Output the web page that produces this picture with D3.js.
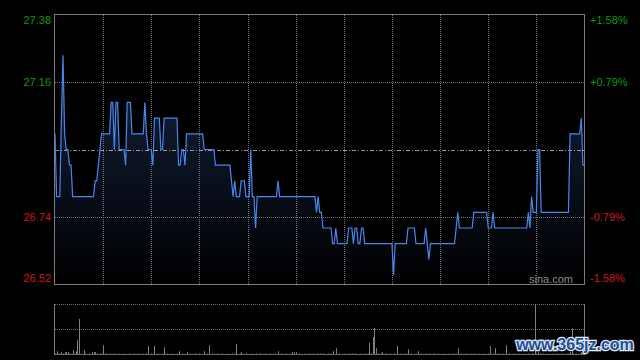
<!DOCTYPE html>
<html>
<head>
<meta charset="utf-8">
<script src="https://cdn.jsdelivr.net/npm/d3@7/dist/d3.min.js"></script>
<style>
	html, body { margin: 0; padding: 0; background: #000; }
	svg { display: block; }
	text { font-family: "Liberation Sans", Arial, sans-serif; }
</style>
</head>
<body>
<svg width="640" height="360"></svg>
<script>
// intraday price, one value per minute (9:30-12:00, 13:00-16:00)
let prices = [
	27.00, 26.80, 26.80, 26.80, 27.05, 27.25, 27.00, 26.95, 26.95, 26.90, 26.90, 26.80, 26.80, 26.80, 26.80, 26.80, 26.80, 26.80, 26.80, 26.80, 26.80, 26.80, 26.80, 26.80, 26.80, 26.85, 26.85, 26.90, 26.95, 27.00,
	27.00, 27.00, 27.00, 27.00, 27.00, 27.10, 27.10, 26.95, 27.10, 27.10, 26.95, 26.95, 26.95, 26.95, 26.90, 27.10, 27.10, 27.10, 27.00, 27.00, 27.00, 27.00, 27.00, 27.00, 27.00, 27.00, 27.10, 27.00, 26.95, 26.95,
	26.95, 26.90, 27.05, 27.05, 27.05, 27.05, 26.95, 26.95, 27.05, 27.05, 27.05, 27.05, 27.05, 27.05, 27.05, 27.05, 27.05, 26.90, 26.90, 26.95, 26.95, 26.90, 27.00, 27.00, 27.00, 27.00, 27.00, 27.00, 27.00, 27.00,
	27.00, 27.00, 27.00, 26.95, 26.95, 26.95, 26.95, 26.95, 26.95, 26.95, 26.90, 26.90, 26.90, 26.90, 26.90, 26.90, 26.90, 26.90, 26.90, 26.90, 26.85, 26.80, 26.85, 26.80, 26.80, 26.80, 26.85, 26.85, 26.85, 26.80,
	26.80, 26.80, 26.95, 26.80, 26.80, 26.70, 26.80, 26.80, 26.80, 26.80, 26.80, 26.80, 26.80, 26.80, 26.80, 26.80, 26.80, 26.80, 26.80, 26.85, 26.80, 26.80, 26.80, 26.80, 26.80, 26.80, 26.80, 26.80, 26.80, 26.80,
	26.80, 26.80, 26.80, 26.80, 26.80, 26.80, 26.80, 26.80, 26.80, 26.80, 26.80, 26.80, 26.80, 26.75, 26.80, 26.75, 26.75, 26.70, 26.70, 26.70, 26.70, 26.70, 26.70, 26.65, 26.65, 26.70, 26.65, 26.65, 26.65, 26.65,
	26.65, 26.65, 26.65, 26.70, 26.70, 26.70, 26.65, 26.70, 26.70, 26.65, 26.65, 26.70, 26.70, 26.65, 26.65, 26.65, 26.65, 26.65, 26.65, 26.65, 26.65, 26.65, 26.65, 26.65, 26.65, 26.65, 26.65, 26.65, 26.65, 26.65,
	26.65, 26.55, 26.65, 26.65, 26.65, 26.65, 26.65, 26.65, 26.65, 26.65, 26.70, 26.70, 26.70, 26.70, 26.70, 26.65, 26.65, 26.65, 26.65, 26.65, 26.65, 26.70, 26.65, 26.60, 26.65, 26.65, 26.65, 26.65, 26.65, 26.65,
	26.65, 26.65, 26.65, 26.65, 26.65, 26.65, 26.65, 26.65, 26.65, 26.65, 26.70, 26.75, 26.70, 26.70, 26.70, 26.70, 26.70, 26.70, 26.70, 26.70, 26.70, 26.75, 26.75, 26.75, 26.75, 26.75, 26.75, 26.75, 26.75, 26.75,
	26.70, 26.70, 26.70, 26.75, 26.70, 26.70, 26.70, 26.70, 26.70, 26.70, 26.70, 26.70, 26.70, 26.70, 26.70, 26.70, 26.70, 26.70, 26.70, 26.70, 26.70, 26.70, 26.70, 26.70, 26.70, 26.75, 26.70, 26.80, 26.75, 26.75,
	26.75, 26.95, 26.95, 26.75, 26.75, 26.75, 26.75, 26.75, 26.75, 26.75, 26.75, 26.75, 26.75, 26.75, 26.75, 26.75, 26.75, 26.75, 26.75, 26.75, 26.75, 27.00, 27.00, 27.00, 27.00, 27.00, 27.00, 27.00, 27.05, 26.90, 26.90
]

// volume per minute (arbitrary units)
let volumes = [
	10, 33, 10, 10, 23, 10, 23, 23, 23, 10, 5, 43, 10, 33, 143, 353, 10, 5, 43, 10, 5, 10, 5, 23, 23, 23, 10, 5, 10, 10,
	93, 5, 10, 5, 10, 5, 5, 10, 5, 5, 10, 5, 5, 10, 5, 5, 10, 5, 5, 10, 5, 5, 10, 5, 5, 10, 5, 10, 83, 5,
	10, 5, 83, 5, 10, 5, 5, 10, 73, 5, 10, 5, 5, 10, 5, 5, 10, 33, 5, 10, 5, 5, 23, 5, 10, 5, 5, 10, 5, 5,
	10, 5, 5, 33, 5, 10, 93, 5, 10, 5, 5, 10, 5, 5, 10, 5, 5, 10, 5, 5, 10, 5, 10, 103, 5, 10, 23, 5, 5, 10,
	5, 5, 10, 5, 5, 10, 5, 5, 10, 5, 5, 10, 5, 5, 10, 5, 5, 10, 5, 33, 5, 10, 5, 5, 10, 5, 5, 10, 23, 23,
	23, 5, 10, 5, 5, 10, 5, 5, 10, 5, 5, 10, 5, 10, 5, 10, 5, 10, 5, 5, 10, 5, 10, 33, 5, 63, 5, 10, 5, 5,
	10, 5, 5, 10, 5, 10, 5, 10, 5, 5, 10, 5, 5, 10, 5, 10, 113, 10, 173, 263, 63, 10, 5, 10, 23, 5, 10, 5, 5, 10,
	5, 10, 5, 83, 5, 10, 5, 5, 10, 5, 53, 5, 10, 5, 5, 10, 33, 5, 10, 5, 5, 10, 5, 10, 5, 5, 10, 5, 5, 10,
	5, 5, 10, 5, 5, 10, 5, 5, 10, 5, 10, 63, 5, 10, 5, 5, 10, 5, 5, 10, 5, 10, 5, 5, 10, 5, 5, 10, 5, 5,
	10, 83, 5, 10, 63, 5, 10, 5, 5, 10, 5, 93, 5, 10, 5, 5, 10, 5, 5, 10, 5, 5, 10, 5, 5, 10, 5, 10, 10, 496,
	10, 23, 10, 5, 10, 5, 5, 10, 5, 5, 10, 5, 5, 10, 5, 5, 10, 5, 5, 10, 10, 23, 256, 10, 5, 10, 5, 10, 23, 10, 5
]

let prevClose = 26.95
let priceMax = 27.38
let priceMin = 26.52
let gridPrices = [27.38, 27.165, 26.95, 26.735, 26.52]
let leftLabels = ['27.38', '27.16', '', '26.74', '26.52']
let rightLabels = ['+1.58%', '+0.79%', '', '-0.79%', '-1.58%']
let halfHourTicks = [30, 60, 90, 120, 150, 180, 210, 240, 270, 300]

let green = '#0c9c0c'
let red = '#d01818'

let svg = d3.select('svg')

let x = d3.scaleLinear().domain([0, prices.length - 1]).range([55, 584.5])
let y = d3.scaleLinear().domain([priceMin, priceMax]).range([284.5, 14.5])
let yVol = d3.scaleLinear().domain([0, d3.max(volumes)]).range([354.5, 304.5])

// gradient under the price line
let grad = svg.append('defs').append('linearGradient')
	.attr('id', 'fill')
	.attr('gradientUnits', 'userSpaceOnUse')
	.attr('x1', 0).attr('y1', 14).attr('x2', 0).attr('y2', 284)
grad.append('stop').attr('offset', '0%').attr('stop-color', '#18294a')
grad.append('stop').attr('offset', '100%').attr('stop-color', '#000000')

let area = d3.area()
	.x((d, i) => x(i))
	.y0(284)
	.y1(d => y(d))

svg.append('path')
	.datum(prices)
	.attr('d', area)
	.attr('fill', 'url(#fill)')

// grid
let grid = svg.append('g')
grid.selectAll('line.h')
	.data(gridPrices.filter((d, i) => i > 0 && i < 4 && d != prevClose))
	.join('line')
	.attr('x1', 55).attr('x2', 584)
	.attr('y1', d => Math.round(y(d)) + 0.5)
	.attr('y2', d => Math.round(y(d)) + 0.5)
	.attr('stroke', '#707070')
	.attr('stroke-dasharray', '1,1')

grid.append('line')
	.attr('x1', 55).attr('x2', 584)
	.attr('y1', Math.round(y(prevClose)) + 0.5)
	.attr('y2', Math.round(y(prevClose)) + 0.5)
	.attr('stroke', '#9a9a9a')
	.attr('stroke-dasharray', '4,2,1,2')

grid.selectAll('line.v')
	.data(halfHourTicks)
	.join('line')
	.attr('x1', d => Math.round(x(d)) + 0.5)
	.attr('x2', d => Math.round(x(d)) + 0.5)
	.attr('y1', 15).attr('y2', 284)
	.attr('stroke', '#707070')
	.attr('stroke-dasharray', '1,1')

// price line
svg.append('path')
	.datum(prices)
	.attr('d', d3.line().x((d, i) => x(i)).y(d => y(d)))
	.attr('fill', 'none')
	.attr('stroke', '#4787ec')
	.attr('stroke-width', 1.2)

// frame
svg.append('rect')
	.attr('x', 54.5).attr('y', 14.5)
	.attr('width', 530).attr('height', 270)
	.attr('fill', 'none')
	.attr('stroke', '#7c7c7c')

// price labels
let labelY = d => Math.max(20, Math.min(278, y(d)))
svg.selectAll('text.left')
	.data(gridPrices)
	.join('text')
	.attr('x', 51)
	.attr('y', labelY)
	.attr('dy', '0.36em')
	.attr('text-anchor', 'end')
	.attr('font-size', 11)
	.attr('fill', d => d > prevClose ? green : red)
	.text((d, i) => leftLabels[i])

svg.selectAll('text.right')
	.data(gridPrices)
	.join('text')
	.attr('x', 590)
	.attr('y', labelY)
	.attr('dy', '0.36em')
	.attr('font-size', 11)
	.attr('fill', d => d > prevClose ? green : red)
	.text((d, i) => rightLabels[i])

svg.append('text')
	.attr('x', 573).attr('y', 283)
	.attr('text-anchor', 'end')
	.attr('font-size', 11)
	.attr('fill', '#8a8a8a')
	.text('sina.com')

// volume panel
let vol = svg.append('g')
vol.append('line')
	.attr('x1', 55).attr('x2', 584).attr('y1', 304.5).attr('y2', 304.5)
	.attr('stroke', '#707070').attr('stroke-dasharray', '1,1')
vol.append('line')
	.attr('x1', 55).attr('x2', 584).attr('y1', 329.5).attr('y2', 329.5)
	.attr('stroke', '#707070').attr('stroke-dasharray', '1,1')

vol.selectAll('line.bar')
	.data(volumes)
	.join('line')
	.attr('x1', (d, i) => Math.round(x(i)) + 0.5)
	.attr('x2', (d, i) => Math.round(x(i)) + 0.5)
	.attr('y1', 354.5)
	.attr('y2', d => yVol(d))
	.attr('stroke', '#808080')

vol.append('line')
	.attr('x1', 54.5).attr('x2', 54.5).attr('y1', 304).attr('y2', 355)
	.attr('stroke', '#7c7c7c')
vol.append('line')
	.attr('x1', 584.5).attr('x2', 584.5).attr('y1', 304).attr('y2', 355)
	.attr('stroke', '#7c7c7c')
vol.append('line')
	.attr('x1', 54.5).attr('x2', 584.5).attr('y1', 354.5).attr('y2', 354.5)
	.attr('stroke', '#6a6a6a')

// site watermark
svg.append('text')
	.attr('x', 575).attr('y', 350)
	.attr('text-anchor', 'middle')
	.attr('font-family', '"Liberation Serif", serif')
	.attr('font-weight', 'bold')
	.attr('font-size', 16)
	.attr('fill', '#1f4f9a')
	.attr('stroke', '#dfe7f2')
	.attr('stroke-width', 2.5)
	.attr('paint-order', 'stroke')
	.text('www.365jz.com')
</script>
</body>
</html>
